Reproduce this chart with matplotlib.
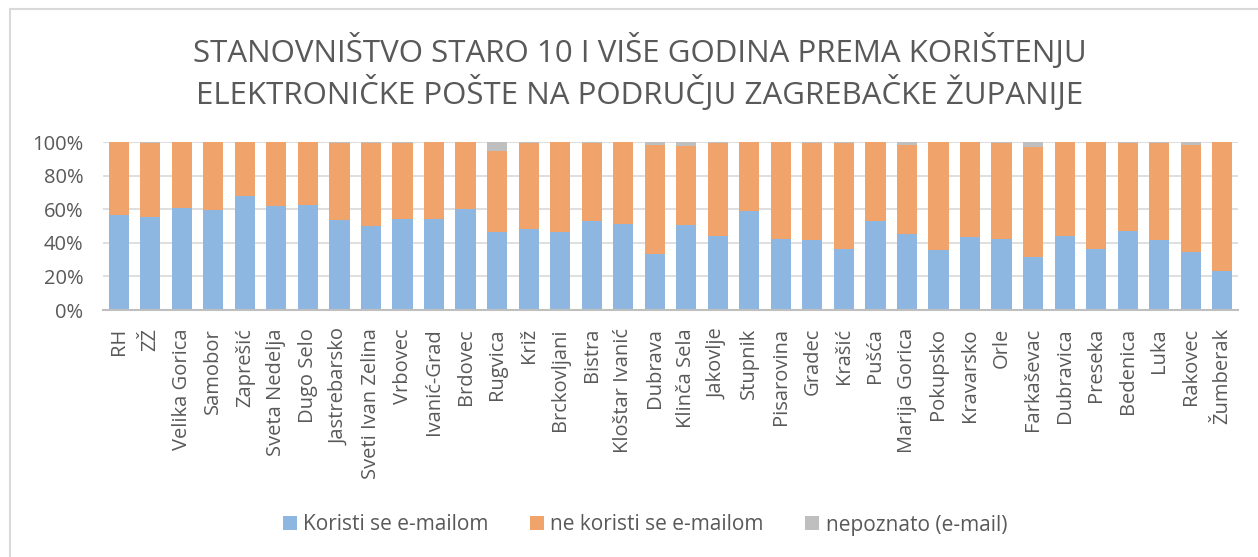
import matplotlib
matplotlib.use("Agg")
import matplotlib.pyplot as plt
from matplotlib.patches import Rectangle
import numpy as np

categories = ["RH", "ZŽ", "Velika Gorica", "Samobor", "Zaprešić", "Sveta Nedelja", "Dugo Selo",
              "Jastrebarsko", "Sveti Ivan Zelina", "Vrbovec", "Ivanić-Grad", "Brdovec", "Rugvica",
              "Križ", "Brckovljani", "Bistra", "Kloštar Ivanić", "Dubrava", "Klinča Sela", "Jakovlje",
              "Stupnik", "Pisarovina", "Gradec", "Krašić", "Pušća", "Marija Gorica", "Pokupsko",
              "Kravarsko", "Orle", "Farkaševac", "Dubravica", "Preseka", "Bedenica", "Luka",
              "Rakovec", "Žumberak"]
koristi = [56.5, 55.5, 61.0, 59.6, 68.0, 61.8, 62.4, 53.3, 50.1, 54.0, 54.0, 60.2, 46.3,
           48.5, 46.3, 52.7, 51.1, 33.2, 50.3, 44.1, 58.8, 42.3, 41.7, 36.4, 52.7, 45.5,
           35.6, 43.3, 42.3, 31.6, 44.1, 36.2, 47.1, 41.7, 34.8, 23.1]
nepoznato = [0.2, 0.8, 0.2, 0.2, 0.2, 0.2, 0.2, 0.8, 0.8, 0.8, 0.2, 0.2, 5.6,
             0.8, 0.2, 0.8, 0.2, 2.0, 2.6, 0.8, 0.2, 0.2, 0.8, 0.8, 0.2, 2.0,
             0.2, 0.2, 0.8, 3.2, 0.2, 0.2, 0.4, 0.8, 2.0, 0.2]
ne_koristi = [100 - k - n for k, n in zip(koristi, nepoznato)]

series_names = ["Koristi se e-mailom", "ne koristi se e-mailom", "nepoznato (e-mail)"]
colors = ["#8DB7E1", "#F0A46C", "#BFBFBF"]
title = "STANOVNIŠTVO STARO 10 I VIŠE GODINA PREMA KORIŠTENJU\nELEKTRONIČKE POŠTE NA PODRUČJU ZAGREBAČKE ŽUPANIJE"

plt.rcParams['font.family'] = ['Open Sans', 'DejaVu Sans']
txt = "#595959"

fig = plt.figure(figsize=(12.58, 5.57), dpi=100)
W, H = 1258, 557
ax = fig.add_axes([103 / W, 1 - 310 / H, (1238 - 103) / W, (310 - 142) / H])

x = np.arange(len(categories))
bw = 0.64
ax.bar(x, koristi, bw, color=colors[0], label=series_names[0], zorder=3)
ax.bar(x, ne_koristi, bw, bottom=koristi, color=colors[1], label=series_names[1], zorder=3)
bottom2 = [a + b for a, b in zip(koristi, ne_koristi)]
ax.bar(x, nepoznato, bw, bottom=bottom2, color=colors[2], label=series_names[2], zorder=3)

ax.set_xlim(-0.5, len(categories) - 0.5)
ax.set_ylim(0, 100)
ax.set_yticks(np.arange(0, 101, 20))
ax.set_yticklabels([f"{v}%" for v in range(0, 101, 20)], color=txt, fontsize=14.5)
ax.set_xticks(x)
ax.set_xticklabels(categories, rotation=90, color=txt, fontsize=14.5)
ax.tick_params(axis='x', length=0, pad=13)
ax.tick_params(axis='y', length=0, pad=14)
ax.grid(axis='y', color="#D9D9D9", linewidth=1.2, zorder=0)
for s in ["top", "right", "left"]:
    ax.spines[s].set_visible(False)
ax.spines["bottom"].set_color("#BFBFBF")
ax.spines["bottom"].set_linewidth(1.5)
ax.spines["bottom"].set_zorder(4)

fig.text(640 / W, 1 - 72 / H, title, ha='center', va='center', fontsize=22.5, color=txt,
         linespacing=1.2)

fig.legend(loc='center', bbox_to_anchor=(645 / W, 1 - 525 / H), ncol=3, frameon=False,
           fontsize=15, labelcolor=txt, handlelength=0.67, handleheight=0.67,
           handletextpad=0.3, columnspacing=2.0)

fig.patches.append(Rectangle((10 / W, -0.1), 1.1, (1 - 9 / H) + 0.1, transform=fig.transFigure,
                             fill=False, edgecolor="#D9D9D9", linewidth=1.5))

fig.savefig("out.png", dpi=100)
